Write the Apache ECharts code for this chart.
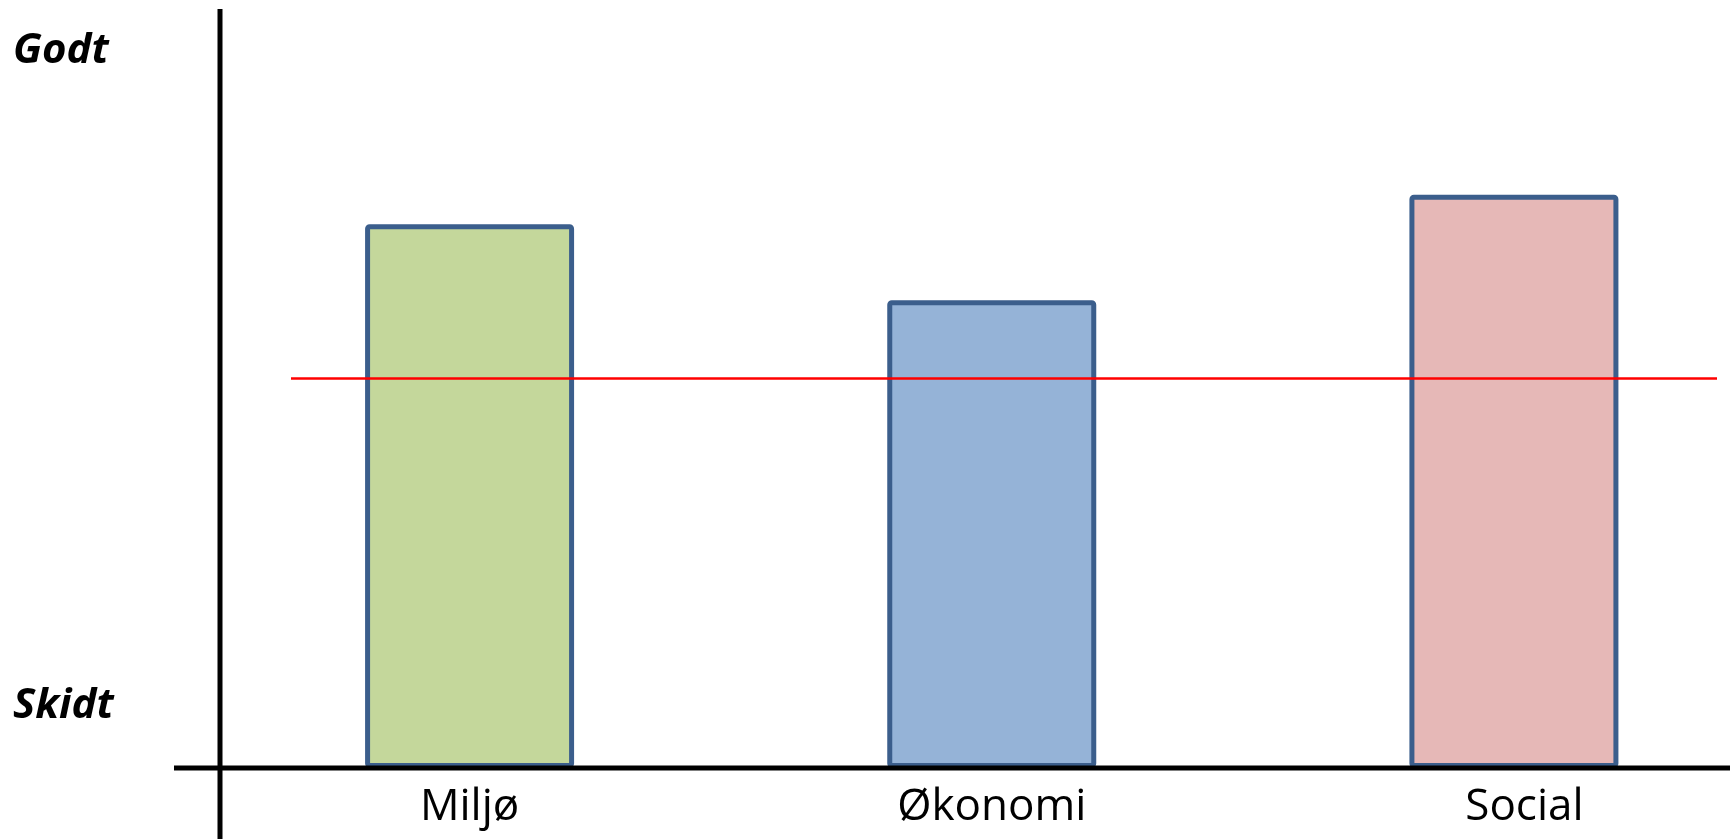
<!DOCTYPE html>
<html>
<head>
<meta charset="utf-8">
<title>Bæredygtighed</title>
<script src="https://cdn.jsdelivr.net/npm/echarts@6/dist/echarts.min.js"></script>
<style>
  html, body { margin: 0; padding: 0; background: #ffffff; }
  #chart { width: 1734px; height: 839px; }
</style>
</head>
<body>
<div id="chart"></div>
<script>
// Categories and their scores (0 = bottom of scale, 100 = top of scale)
const categories = ['Miljø', 'Økonomi', 'Social'];
const scores = [75.9, 65.3, 80.0];
// Reference level drawn as a horizontal line
const threshold = 54.4;
// Scale end labels on the vertical axis
const scaleTickValues = [8.65, 100];
const scaleTickLabels = ['Skidt', 'Godt'];

const fillColors = ['#C4D79B', '#95B3D7', '#E6B8B7'];
const borderColor = '#3B5E8C';

const chart = echarts.init(document.getElementById('chart'), null, { renderer: 'canvas' });

const catLabelFont = {
  color: '#000000',
  fontFamily: '"Open Sans", sans-serif',
  fontSize: 44
};

chart.setOption({
  backgroundColor: '#ffffff',
  animation: false,
  grid: {
    left: 208.5, top: 51.5, width: 1566.5, bottom: 71,
    containLabel: false,
    outerBoundsMode: 'none'
  },
  xAxis: {
    type: 'category',
    data: categories,
    axisLine: { show: false },
    axisTick: { show: false },
    splitLine: { show: false },
    axisLabel: Object.assign({
      interval: 0,
      margin: 17,
      // the last label sits slightly right of its bar centre
      formatter: function (v, idx) {
        return idx === categories.length - 1 ? '{shift|' + v + '}' : v;
      },
      rich: {
        shift: Object.assign({ padding: [0, 0, 0, 21] }, catLabelFont)
      }
    }, catLabelFont)
  },
  yAxis: {
    type: 'value',
    min: 0,
    max: 100,
    axisLine: { show: false },
    axisTick: { show: false },
    splitLine: { show: false },
    axisLabel: {
      customValues: scaleTickValues,
      formatter: function (v) {
        const i = scaleTickValues.indexOf(v);
        return i >= 0 ? scaleTickLabels[i] : '';
      },
      align: 'left',
      margin: 195.5,
      color: '#000000',
      fontFamily: '"Open Sans", sans-serif',
      fontStyle: 'italic',
      fontWeight: 'bold',
      fontSize: 42
    }
  },
  series: [{
    type: 'bar',
    barWidth: 209,
    data: scores.map(function (v, i) {
      return {
        value: v,
        itemStyle: {
          color: fillColors[i],
          borderColor: borderColor,
          borderWidth: 5,
          borderRadius: 2
        }
      };
    }),
    markLine: {
      silent: true,
      symbol: ['none', 'none'],
      label: { show: false },
      lineStyle: { color: '#FF0000', width: 2.5, type: 'solid' },
      data: [[{ x: 291, yAxis: threshold }, { x: 1717, yAxis: threshold }]]
    }
  }]
});

// Axis cross: horizontal baseline at value 0, vertical line spanning the full height
const baseY = chart.convertToPixel({ yAxisIndex: 0 }, 0);
chart.setOption({
  graphic: [
    {
      type: 'line', z: 100,
      shape: { x1: 174, y1: baseY, x2: 1730, y2: baseY },
      style: { stroke: '#000000', lineWidth: 5 }
    },
    {
      type: 'line', z: 100,
      shape: { x1: 220, y1: 9, x2: 220, y2: 839 },
      style: { stroke: '#000000', lineWidth: 5 }
    }
  ]
});
</script>
</body>
</html>
